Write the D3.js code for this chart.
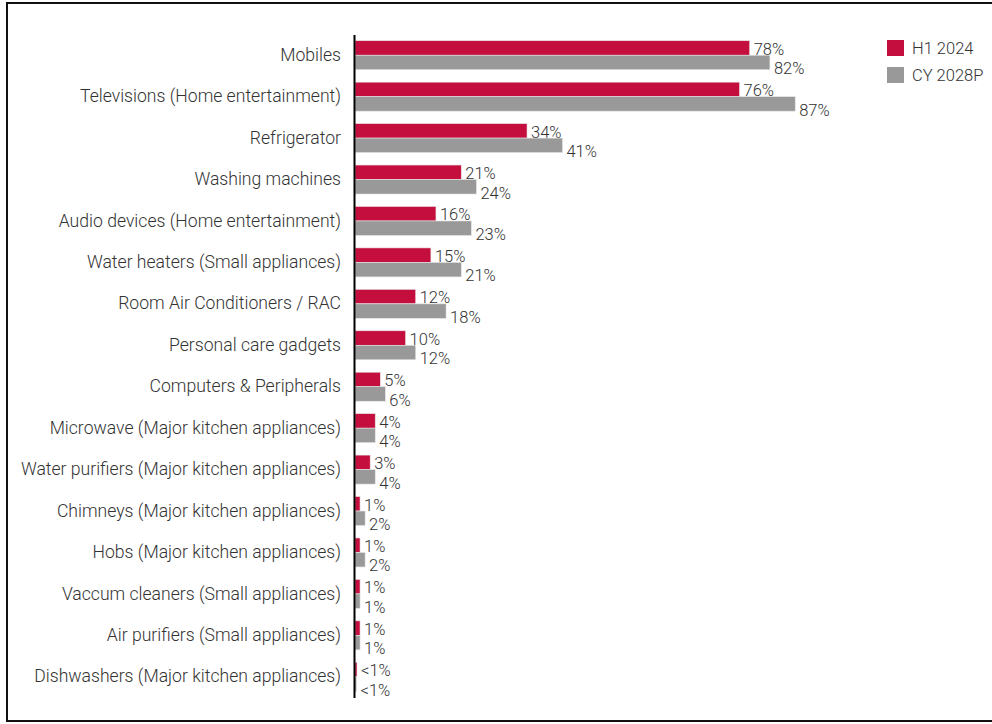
<!DOCTYPE html>
<html><head><meta charset="utf-8">
<script src="https://cdn.jsdelivr.net/npm/d3@7"></script>
<style>body{margin:0;background:#fff;}svg{display:block;font-family:Roboto,sans-serif;font-weight:300;}</style>
</head><body>
<script>
const categories = ["Mobiles","Televisions (Home entertainment)","Refrigerator","Washing machines","Audio devices (Home entertainment)","Water heaters (Small appliances)","Room Air Conditioners / RAC","Personal care gadgets","Computers & Peripherals","Microwave (Major kitchen appliances)","Water purifiers (Major kitchen appliances)","Chimneys (Major kitchen appliances)","Hobs (Major kitchen appliances)","Vaccum cleaners (Small appliances)","Air purifiers (Small appliances)","Dishwashers (Major kitchen appliances)"];
const seriesNames = ["H1 2024","CY 2028P"];
const h1_2024 = [78,76,34,21,16,15,12,10,5,4,3,1,1,1,1,0.4];
const cy_2028p = [82,87,41,24,23,21,18,12,6,4,4,2,2,1,1,0.3];
const labels_h1 = ["78%","76%","34%","21%","16%","15%","12%","10%","5%","4%","3%","1%","1%","1%","1%","<1%"];
const labels_cy = ["82%","87%","41%","24%","23%","21%","18%","12%","6%","4%","4%","2%","2%","1%","1%","<1%"];
const colors = ["#C40F3E","#999999"];

const W=992,H=724;
const svg=d3.select("body").append("svg").attr("width",W).attr("height",H);
svg.append("rect").attr("x",7).attr("y",3).attr("width",W).attr("height",718)
  .attr("fill","none").attr("stroke","#111").attr("stroke-width",2);

const x=d3.scaleLinear().domain([0,100]).range([355,861]);
const y=d3.scaleBand().domain(categories).range([34.5,697.5]).paddingInner(0.3).paddingOuter(0.15);
const sub=d3.scaleBand().domain(seriesNames).range([0,y.bandwidth()]);

const series=[h1_2024,cy_2028p], lbls=[labels_h1,labels_cy];
const g=svg.append("g");
categories.forEach((c,i)=>{
  series.forEach((s,j)=>{
    g.append("rect").attr("x",x(0)).attr("y",y(c)+sub(seriesNames[j]))
      .attr("width",x(s[i])-x(0)).attr("height",sub.bandwidth())
      .attr("fill",colors[j]).attr("stroke","#e6e6e6").attr("stroke-width",0.6);
    g.append("text").attr("x",x(s[i])+4).attr("y",y(c)+sub(seriesNames[j])+sub.bandwidth()/2+(j===0?1:6))
      .attr("dy","0.35em").attr("font-size",16.5).attr("fill","#333").text(lbls[j][i]);
  });
});
const ax=svg.append("g").attr("transform",`translate(${x(0)-1},0)`)
  .call(d3.axisLeft(y).tickSize(0).tickPadding(13));
ax.select(".domain").attr("stroke","#000").attr("stroke-width",2);
ax.selectAll("text").attr("font-size",17.6).attr("fill","#333").attr("font-family","Roboto,sans-serif").attr("font-weight",300);

const lg=svg.append("g");
seriesNames.forEach((n,j)=>{
  lg.append("rect").attr("x",887).attr("y",40+j*27).attr("width",17).attr("height",16).attr("fill",colors[j]);
  lg.append("text").attr("x",912).attr("y",48+j*27).attr("dy","0.35em").attr("font-size",16.5).attr("fill","#333").text(n);
});
</script>
</body></html>
